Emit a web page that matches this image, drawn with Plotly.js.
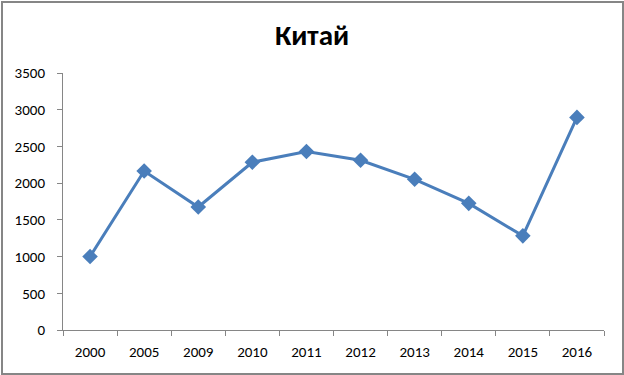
<!DOCTYPE html>
<html><head><meta charset="utf-8">
<script src="https://cdn.plot.ly/plotly-3.0.1.min.js"></script>
<style>
html,body{margin:0;padding:0;background:#fff;}
#wrap{position:relative;width:624px;height:375px;}
#chart{width:624px;height:375px;}
#frame{position:absolute;left:1px;top:1px;width:619px;height:370px;border:2px solid #868686;pointer-events:none;}
</style></head>
<body><div id="wrap"><div id="chart"></div><div id="frame"></div></div>
<script>
const years = ["2000","2005","2009","2010","2011","2012","2013","2014","2015","2016"];
const values = [1000, 2165, 1675, 2285, 2430, 2312, 2052, 1725, 1282, 2895];
const yTicks = [0, 500, 1000, 1500, 2000, 2500, 3000, 3500];
const titleText = "Китай";

const trace = {
  x: years, y: values, type: "scatter", mode: "lines+markers",
  line: {color: "#4A7EBB", width: 3},
  marker: {symbol: "diamond", size: 12, color: "#4A7EBB"},
  hoverinfo: "skip"
};
const fontFam = "Carlito, Calibri, 'Open Sans', 'Liberation Sans', sans-serif";
const layout = {
  width: 624, height: 375,
  margin: {l: 63, r: 20, t: 73, b: 45},
  paper_bgcolor: "#fff", plot_bgcolor: "#fff",
  showlegend: false,
  title: {text: "<b>" + titleText + "</b>", x: 0.5, xanchor: "center", y: 0.907, yanchor: "middle",
          font: {family: fontFam, size: 29, color: "#000"}},
  xaxis: {type: "category", range: [-0.5, 9.5], tickson: "boundaries",
          ticks: "outside", ticklen: 5, tickcolor: "#868686",
          showline: true, linecolor: "#868686", linewidth: 1,
          showgrid: false, zeroline: false, ticklabelstandoff: 8,
          tickfont: {family: fontFam, size: 15, color: "#000"}},
  yaxis: {range: [0, 3500], tickvals: yTicks, ticktext: yTicks.map(String),
          ticks: "outside", ticklen: 5, tickcolor: "#868686",
          showline: true, linecolor: "#868686", linewidth: 1,
          showgrid: false, zeroline: false, ticklabelstandoff: 9,
          tickfont: {family: fontFam, size: 15, color: "#000"}}
};
Plotly.newPlot("chart", [trace], layout, {displayModeBar: false, staticPlot: true});
</script></body></html>
